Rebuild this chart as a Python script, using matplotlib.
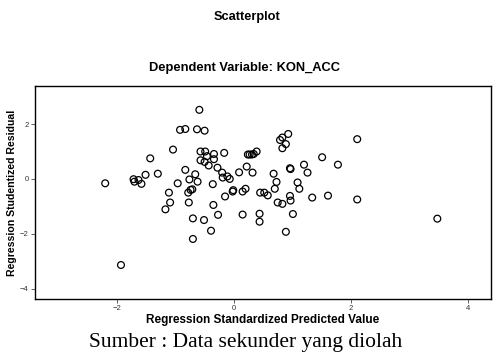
import matplotlib.pyplot as plt

# standardized predicted value (x) and studentized residual (y)
pred = [-2.20, -1.93, -1.715, -1.70, -1.63, -1.58, -1.51, -1.43, -1.30, -1.17,
        -1.11, -1.09, -1.04, -0.96, -0.92, -0.83, -0.83, -0.78, -0.77, -0.76,
        -0.74, -0.71, -0.70, -0.70, -0.66, -0.63, -0.62, -0.59, -0.57, -0.57,
        -0.51, -0.50, -0.49, -0.50, -0.46, -0.43, -0.39, -0.36, -0.35, -0.34,
        -0.34, -0.28, -0.27, -0.20, -0.19, -0.165, -0.15, -0.11, -0.07, -0.02,
        -0.01, 0.15, 0.15, 0.20, 0.09, 0.22, 0.24, 0.27, 0.31, 0.34,
        0.39, 0.32, 0.45, 0.52, 0.58, 0.44, 0.44, 0.68, 0.73, 0.70,
        0.75, 0.83, 0.79, 0.83, 0.89, 0.83, 0.93, 0.89, 0.96, 0.97,
        0.96, 0.97, 1.01, 1.09, 1.12, 1.20, 1.26, 1.34, 1.51, 1.61,
        1.78, 2.11, 2.11, 3.48]
resid = [-0.16, -3.14, -0.01, -0.10, -0.04, -0.18, 0.15, 0.75, 0.19, -1.11,
         -0.50, -0.86, 1.07, -0.16, 1.79, 1.82, 0.33, -0.50, -0.86, -0.02,
         -0.40, -0.38, -1.44, -2.19, 0.17, 1.81, -0.10, 2.52, 1.00, 0.68,
         -1.50, 1.76, 1.00, 0.62, 0.83, 0.49, -1.89, -0.19, -0.95, 0.91,
         0.72, 0.41, -1.31, 0.23, 0.05, 0.95, -0.64, 0.09, 0.00, -0.46,
         -0.41, -0.46, -1.30, -0.36, 0.24, 0.45, 0.89, 0.89, 0.89, 0.91,
         1.00, 0.23, -0.50, -0.50, -0.60, -1.27, -1.56, 0.19, -0.11, -0.36,
         -0.86, -0.91, 1.42, 1.51, 1.27, 1.12, 1.64, -1.93, 0.39, 0.36,
         -0.62, -0.79, -1.28, -0.13, -0.36, 0.52, 0.23, -0.68, 0.79, -0.61,
         0.52, 1.45, -0.75, -1.45]

plt.rcParams['font.family'] = ['Liberation Sans', 'DejaVu Sans']

fig = plt.figure(figsize=(4.96, 3.52), dpi=100)
ax = fig.add_axes([0.0706, 0.1506, 0.9184, 0.6051])

ax.scatter(pred, resid, s=24, facecolors='none', edgecolors='black', linewidths=0.9)

ax.set_xlim(-3.40, 4.39)
ax.set_ylim(-4.38, 3.39)
ax.set_xticks([-2, 0, 2, 4])
ax.set_yticks([-4, -2, 0, 2])
ax.tick_params(direction='out', length=3, width=0.6, color='#444444',
               labelsize=5.5, labelcolor='#333333', pad=1.5)
for sp in ax.spines.values():
    sp.set_linewidth(1.0)
    sp.set_color('black')

ax.set_xlabel('Regression Standardized Predicted Value', fontsize=8.5,
              fontweight='bold', labelpad=1)
ax.set_ylabel('Regression Studentized Residual', fontsize=7.6,
              fontweight='bold', labelpad=2)

fig.text(0.498, 1 - 17 / 352, 'Scatterplot', ha='center', va='center',
         fontsize=9.2, fontweight='bold')
fig.text(0.493, 1 - 68 / 352, 'Dependent Variable: KON_ACC', ha='center',
         va='center', fontsize=9.3, fontweight='bold')
fig.text(0.496, 1 - 347 / 352, 'Sumber : Data sekunder yang diolah',
         ha='center', va='baseline', fontsize=15.5, family='Liberation Serif')

fig.savefig('out.png', dpi=100)
